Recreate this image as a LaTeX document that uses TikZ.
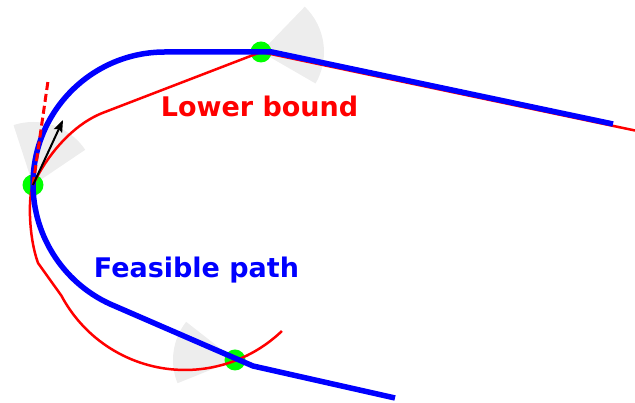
\documentclass[tikz,border=0pt]{standalone}
\usepackage{fontspec}
\setmainfont{DejaVu Sans}
\usetikzlibrary{arrows.meta}
\tikzset{
  wp/.style      = {circle, fill=green, minimum size=21pt, inner sep=0pt},
  sector/.style  = {fill=black!7},
  feas/.style    = {draw=blue, line width=5.5pt, line join=round},
  lbnd/.style    = {draw=red, line width=2.5pt, line join=round},
  hdg/.style     = {draw=red, line width=3pt, dash pattern=on 8pt off 4pt},
  ar/.style      = {-{Stealth[length=12pt,width=9pt,inset=2pt]}, line width=2pt},
  lbl/.style     = {font=\fontsize{27}{32}\selectfont\bfseries, inner sep=0pt, anchor=base}
}
\begin{document}
\begin{tikzpicture}[x=1pt, y=1pt]
\useasboundingbox (0,0) rectangle (635,403);

% waypoints
\coordinate (wpL) at (33,218);
\coordinate (wpT) at (261,351);
\coordinate (wpB) at (235,43);

% heading sectors
\fill[sector] (wpL) -- ++(34:63) arc[start angle=34, end angle=108, radius=63] -- cycle;
\fill[sector] (wpT) -- ++(-30:63) arc[start angle=-30, end angle=46, radius=63] -- cycle;
\fill[sector] (wpB) -- ++(142:62) arc[start angle=142, end angle=202, radius=62] -- cycle;
\node[wp] (dotL) at (wpL) {};
\node[wp] (dotT) at (wpT) {};
\node[wp] (dotB) at (wpB) {};

% lower bound
\coordinate (lbEnd) at (635,272.5);
\coordinate (lbKnee) at (105,291);
\coordinate (lbLow) at (38,140);
\draw[lbnd] (lbEnd) -- (wpT) -- (lbKnee)
  .. controls (72,279) and (46,246) .. (wpL)
  .. controls (28.4,208) and (28,168) .. (lbLow)
  -- (61.4,107.3) arc[start angle=208, end angle=313.8, radius=140];

% feasible path
\coordinate (fpEnd) at (613,279);
\coordinate (fpKnee) at (272,351);
\coordinate (fpTop) at (165,351);
\coordinate (fpKink) at (253,37);
\coordinate (fpStart) at (395,5);
\draw[feas] (fpEnd) -- (fpKnee) -- (fpTop)
  arc[start angle=90, end angle=247.7, radius=132] -- (fpKink) -- (fpStart);

% headings at the left waypoint
\coordinate (hdgTip) at (48,322);
\coordinate (arTip) at (63,283);
\draw[hdg] (wpL) -- (hdgTip);
\draw[ar] (wpL) -- (arTip);

\node[lbl, text=red] (lbLabel) at (259.5,286) {Lower bound};
\node[lbl, text=blue] (fpLabel) at (196.5,125) {Feasible path};
\end{tikzpicture}
\end{document}
